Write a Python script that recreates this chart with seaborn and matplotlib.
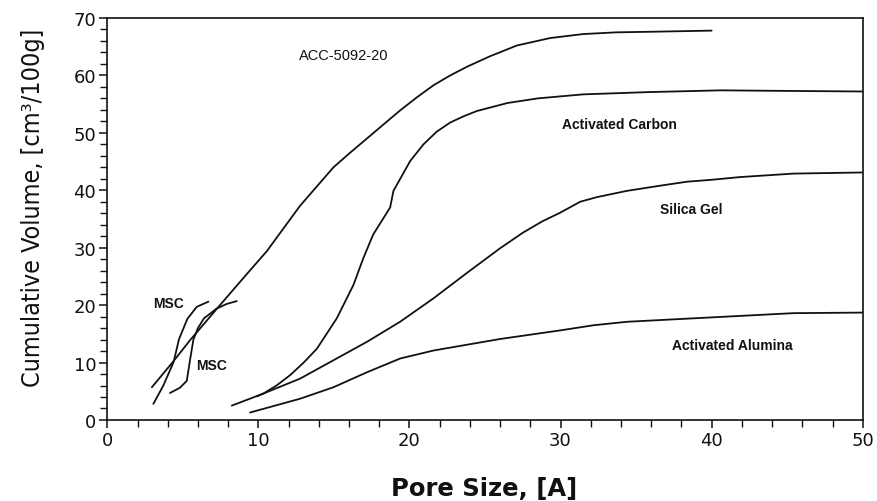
import matplotlib
matplotlib.use("Agg")
import matplotlib.pyplot as plt
from matplotlib import font_manager
from matplotlib.ticker import MultipleLocator
import seaborn as sns
import pandas as pd

# Cumulative pore volume curves: pore size [A] vs cumulative volume [cm3/100g]
acc_x = [2.95, 4.37, 5.48, 7.46, 9.0, 10.56, 12.76, 14.97, 16.1, 17.18, 18.3,
         19.38, 20.5, 21.6, 22.7, 23.8, 25.3, 27.1, 29.3, 31.5, 33.7, 36.0, 40.0]
acc_y = [5.7, 10.2, 13.9, 20.0, 24.7, 29.4, 37.3, 44.0, 46.6, 49.0, 51.5,
         53.9, 56.2, 58.3, 60.0, 61.5, 63.3, 65.2, 66.5, 67.2, 67.5, 67.6, 67.8]

carbon_x = [9.9, 10.33, 11.2, 12.1, 13.0, 13.87, 15.19, 16.29, 16.95, 17.6,
            18.72, 18.94, 20.05, 20.93, 21.8, 22.7, 23.6, 24.46, 26.5, 28.5,
            31.5, 35.9, 40.6, 45.0, 50.0]
carbon_y = [4.1, 4.6, 6.0, 7.8, 10.0, 12.4, 17.7, 23.5, 28.2, 32.3,
            37.0, 39.9, 45.1, 48.0, 50.2, 51.8, 52.9, 53.8, 55.2, 56.0,
            56.7, 57.1, 57.4, 57.3, 57.2]

silica_x = [8.24, 10.33, 12.76, 14.97, 17.18, 19.38, 21.6, 23.8, 26.0, 27.5,
            28.8, 29.98, 31.3, 32.4, 34.4, 36.6, 38.4, 39.9, 41.9, 45.4, 50.0]
silica_y = [2.5, 4.6, 7.2, 10.4, 13.6, 17.1, 21.2, 25.6, 29.9, 32.6,
            34.6, 36.1, 38.0, 38.8, 39.9, 40.8, 41.5, 41.8, 42.3, 42.9, 43.1]

alumina_x = [9.45, 12.76, 14.97, 17.18, 19.38, 21.6, 23.8, 26.0, 29.98, 32.2,
             34.4, 38.8, 43.2, 45.4, 50.0]
alumina_y = [1.3, 3.7, 5.7, 8.3, 10.7, 12.1, 13.1, 14.1, 15.6, 16.5,
             17.1, 17.7, 18.3, 18.6, 18.7]

msc1_x = [3.05, 3.71, 4.39, 4.75, 5.3, 5.92, 6.69]
msc1_y = [2.8, 6.0, 10.1, 14.1, 17.6, 19.7, 20.6]

msc2_x = [4.15, 4.8, 5.26, 5.48, 5.7, 6.0, 6.4, 7.24, 7.9, 8.57]
msc2_y = [4.7, 5.6, 6.8, 10.5, 14.0, 16.0, 17.7, 19.4, 20.2, 20.7]

curve_labels = ["ACC-5092-20", "Activated Carbon", "Silica Gel",
                "Activated Alumina", "MSC", "MSC"]
label_x = [12.7, 30.1, 36.6, 37.4, 3.05, 5.87]
label_y = [63.6, 51.5, 36.8, 13.0, 20.3, 9.6]
label_bold = [False, True, True, True, True, True]

x_ticks = [0, 10, 20, 30, 40, 50]
y_ticks = [0, 10, 20, 30, 40, 50, 60, 70]

sns.set_theme(style="white")
plt.rcParams["font.family"] = ["DejaVu Sans"]

curves = [(acc_x, acc_y), (carbon_x, carbon_y), (silica_x, silica_y),
          (alumina_x, alumina_y), (msc1_x, msc1_y), (msc2_x, msc2_y)]
frames = []
for i, (xs, ys) in enumerate(curves):
    frames.append(pd.DataFrame({"pore": xs, "vol": ys, "curve": i}))
data = pd.concat(frames, ignore_index=True)

fig = plt.figure(figsize=(8.78, 5.02), dpi=100)
ax = fig.add_axes([0.1222, 0.1614, 0.8604, 0.8008])

sns.lineplot(data=data, x="pore", y="vol", units="curve", estimator=None,
             sort=False, color="#111111", linewidth=1.3, ax=ax)

ax.set_xlim(0, 50)
ax.set_ylim(0, 70)
ax.set_xticks(x_ticks)
ax.set_yticks(y_ticks)
ax.xaxis.set_minor_locator(MultipleLocator(2))
ax.yaxis.set_minor_locator(MultipleLocator(2))
ax.tick_params(axis="both", which="major", direction="out", length=6,
               width=1.1, color="#111111", labelsize=13, labelcolor="#111111",
               pad=2, bottom=True, left=True)
ax.tick_params(axis="both", which="minor", direction="out", length=5,
               width=1.0, color="#111111", bottom=True, left=True)

for side in ["left", "bottom", "right", "top"]:
    ax.spines[side].set_visible(True)
    ax.spines[side].set_color("#111111")
    ax.spines[side].set_linewidth(1.2)

for text, lx, ly, bold in zip(curve_labels, label_x, label_y, label_bold):
    ax.text(lx, ly, text, ha="left", va="center", color="#111111",
            fontsize=10 if bold else 10.5,
            fontweight="bold" if bold else "normal",
            family=["Liberation Sans", "DejaVu Sans"])

# Pick a condensed face for the vertical axis title when one is available
font_names = {f.name for f in font_manager.fontManager.ttflist}
condensed_dejavu = any(f.name == "DejaVu Sans" and str(f.stretch) == "condensed"
                       for f in font_manager.fontManager.ttflist)
if "Liberation Sans Narrow" in font_names:
    ylab_kw = dict(family=["Liberation Sans Narrow", "DejaVu Sans"], fontsize=22)
elif condensed_dejavu:
    ylab_kw = dict(family=["DejaVu Sans"], fontstretch="condensed", fontsize=18)
else:
    ylab_kw = dict(family=["Liberation Sans", "DejaVu Sans"], fontsize=18.5)

ax.set_ylabel("Cumulative Volume, [cm³/100g]", color="#111111", **ylab_kw)
ax.yaxis.label.set_va("center")
ax.yaxis.set_label_coords(-0.098, 0.531)

ax.set_xlabel("Pore Size, [A]", fontsize=17.5, fontweight="bold",
              color="#111111", family=["DejaVu Sans"])
ax.xaxis.label.set_va("center")
ax.xaxis.set_label_coords(0.4987, -0.17)

fig.savefig("out.png", dpi=100, facecolor="white")
